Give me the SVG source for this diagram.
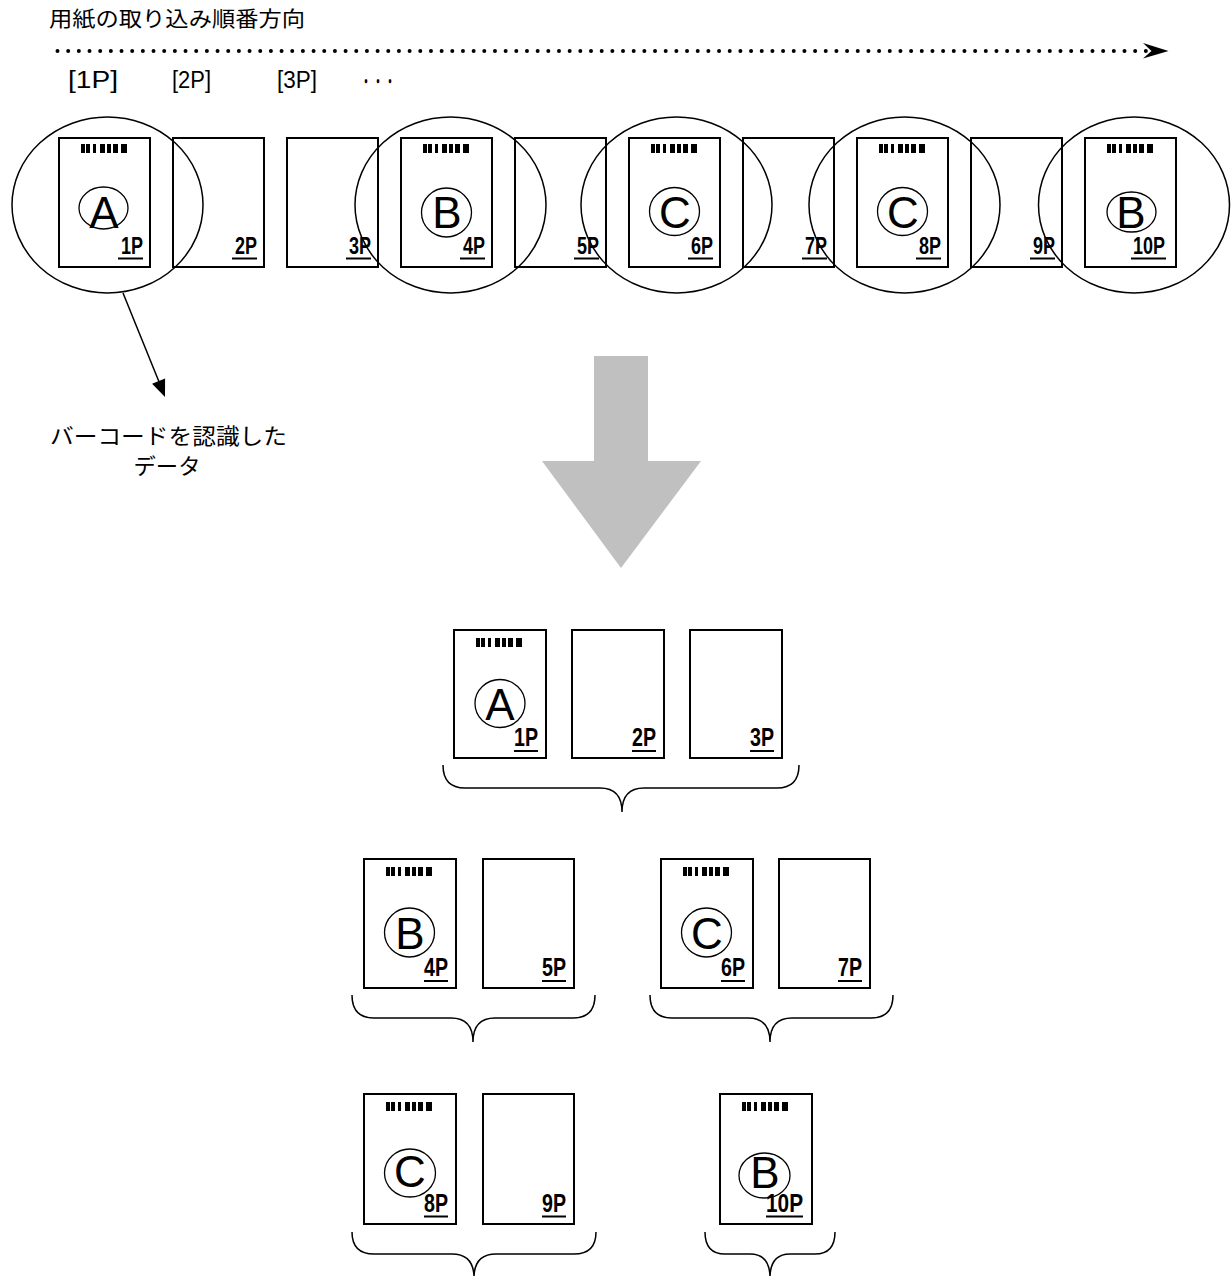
<svg xmlns="http://www.w3.org/2000/svg" xmlns:xlink="http://www.w3.org/1999/xlink" width="1232" height="1276" viewBox="0 0 1232 1276">
<style>
.page{fill:none;stroke:#000;stroke-width:2}
.scan{fill:none;stroke:#000;stroke-width:1.5}
.mark{fill:none;stroke:#000;stroke-width:1.3}
.letter{font-family:"Liberation Sans",Arial,sans-serif;font-size:44px;fill:#000;text-anchor:middle}
.lbl{font-family:"Liberation Sans",Arial,sans-serif;font-weight:bold;fill:#000}
.ul{stroke:#000;stroke-width:2}
.jp{font-family:"Noto Sans CJK JP","Noto Sans",sans-serif;fill:#000}
.br{font-family:"Liberation Sans",Arial,sans-serif;font-size:23px;fill:#000}
.brace{fill:none;stroke:#000;stroke-width:1.5}
</style>
<defs>
<g id="barcode">
<rect x="0" y="0" width="4" height="9"/><rect x="5" y="0" width="4" height="9"/><rect x="12" y="0" width="3" height="9"/><rect x="19" y="0" width="5" height="9"/><rect x="26" y="0" width="4" height="9"/><rect x="32" y="0" width="5" height="9"/><rect x="40" y="0" width="6" height="9"/>
</g>
</defs>
<rect width="1232" height="1276" fill="#fff"/>

<g id="title">
<text class="jp" x="49" y="26" font-size="21" textLength="256" lengthAdjust="spacingAndGlyphs">用紙の取り込み順番方向</text>
</g>
<g id="order-labels">
<text class="br" x="68" y="88" textLength="50" lengthAdjust="spacingAndGlyphs">[1P]</text>
<text class="br" x="172" y="88" textLength="39" lengthAdjust="spacingAndGlyphs">[2P]</text>
<text class="br" x="277" y="88" textLength="40" lengthAdjust="spacingAndGlyphs">[3P]</text>
<text class="jp" x="360" y="89" font-size="20" textLength="36" lengthAdjust="spacingAndGlyphs">・・・</text>
</g>

<!-- top row pages -->
<g id="top-p1"><rect class="page" x="59" y="138" width="91" height="129"/><use href="#barcode" x="81" y="144"/><ellipse class="mark" cx="103.5" cy="208" rx="24.5" ry="21"/><text class="letter" x="104" y="228">A</text><text class="lbl" x="121" y="254" font-size="23" textLength="22" lengthAdjust="spacingAndGlyphs">1P</text><line class="ul" x1="118" y1="258.5" x2="143" y2="258.5"/></g>
<g id="top-p2"><rect class="page" x="173" y="138" width="91" height="129"/><text class="lbl" x="235" y="254" font-size="23" textLength="22" lengthAdjust="spacingAndGlyphs">2P</text><line class="ul" x1="232" y1="258.5" x2="257" y2="258.5"/></g>
<g id="top-p3"><rect class="page" x="287" y="138" width="91" height="129"/><text class="lbl" x="349" y="254" font-size="23" textLength="22" lengthAdjust="spacingAndGlyphs">3P</text><line class="ul" x1="346" y1="258.5" x2="371" y2="258.5"/></g>
<g id="top-p4"><rect class="page" x="401" y="138" width="91" height="129"/><use href="#barcode" x="423" y="144"/><ellipse class="mark" cx="446.5" cy="212.5" rx="25" ry="24.5"/><text class="letter" x="447" y="228">B</text><text class="lbl" x="463" y="254" font-size="23" textLength="22" lengthAdjust="spacingAndGlyphs">4P</text><line class="ul" x1="460" y1="258.5" x2="485" y2="258.5"/></g>
<g id="top-p5"><rect class="page" x="515" y="138" width="91" height="129"/><text class="lbl" x="577" y="254" font-size="23" textLength="22" lengthAdjust="spacingAndGlyphs">5P</text><line class="ul" x1="574" y1="258.5" x2="599" y2="258.5"/></g>
<g id="top-p6"><rect class="page" x="629" y="138" width="91" height="129"/><use href="#barcode" x="651" y="144"/><ellipse class="mark" cx="674.5" cy="211.5" rx="25" ry="24"/><text class="letter" x="675" y="228">C</text><text class="lbl" x="691" y="254" font-size="23" textLength="22" lengthAdjust="spacingAndGlyphs">6P</text><line class="ul" x1="688" y1="258.5" x2="713" y2="258.5"/></g>
<g id="top-p7"><rect class="page" x="743" y="138" width="91" height="129"/><text class="lbl" x="805" y="254" font-size="23" textLength="22" lengthAdjust="spacingAndGlyphs">7P</text><line class="ul" x1="802" y1="258.5" x2="827" y2="258.5"/></g>
<g id="top-p8"><rect class="page" x="857" y="138" width="91" height="129"/><use href="#barcode" x="879" y="144"/><ellipse class="mark" cx="902.5" cy="211.5" rx="25" ry="24"/><text class="letter" x="903" y="228">C</text><text class="lbl" x="919" y="254" font-size="23" textLength="22" lengthAdjust="spacingAndGlyphs">8P</text><line class="ul" x1="916" y1="258.5" x2="941" y2="258.5"/></g>
<g id="top-p9"><rect class="page" x="971" y="138" width="91" height="129"/><text class="lbl" x="1033" y="254" font-size="23" textLength="22" lengthAdjust="spacingAndGlyphs">9P</text><line class="ul" x1="1030" y1="258.5" x2="1055" y2="258.5"/></g>
<g id="top-p10"><rect class="page" x="1085" y="138" width="91" height="129"/><use href="#barcode" x="1107" y="144"/><ellipse class="mark" cx="1131.5" cy="212" rx="24.5" ry="20"/><text class="letter" x="1131" y="228">B</text><text class="lbl" x="1133" y="254" font-size="23" textLength="32" lengthAdjust="spacingAndGlyphs">10P</text><line class="ul" x1="1131" y1="258.5" x2="1166" y2="258.5"/></g>

<g id="scan-areas">
<ellipse class="scan" cx="107.5" cy="205" rx="95.5" ry="88"/>
<ellipse class="scan" cx="450.5" cy="205" rx="95.5" ry="88"/>
<ellipse class="scan" cx="676.5" cy="205" rx="95.5" ry="88"/>
<ellipse class="scan" cx="904.5" cy="205" rx="95.5" ry="88"/>
<ellipse class="scan" cx="1134" cy="205" rx="95.5" ry="88"/>
</g>

<g id="callout-text">
<text class="jp" x="168.5" y="444" font-size="22" text-anchor="middle" textLength="237" lengthAdjust="spacingAndGlyphs">バーコードを認識した</text>
<text class="jp" x="167" y="474" font-size="22" text-anchor="middle" textLength="67" lengthAdjust="spacingAndGlyphs">データ</text>
</g>

<g id="big-arrow">
<polygon points="594,356 648,356 648,461 701,461 621,568 542,461 594,461" fill="#c0c0c0"/>
</g>

<!-- group 1 -->
<g id="g1-p1"><rect class="page" x="454" y="630" width="92" height="128"/><use href="#barcode" x="476" y="638"/><ellipse class="mark" cx="500" cy="703.5" rx="25" ry="24"/><text class="letter" x="500" y="720">A</text><text class="lbl" x="514" y="746" font-size="25" textLength="24" lengthAdjust="spacingAndGlyphs">1P</text><line class="ul" x1="514" y1="751" x2="538" y2="751"/></g>
<g id="g1-p2"><rect class="page" x="572" y="630" width="92" height="128"/><text class="lbl" x="632" y="746" font-size="25" textLength="24" lengthAdjust="spacingAndGlyphs">2P</text><line class="ul" x1="632" y1="751" x2="656" y2="751"/></g>
<g id="g1-p3"><rect class="page" x="690" y="630" width="92" height="128"/><text class="lbl" x="750" y="746" font-size="25" textLength="24" lengthAdjust="spacingAndGlyphs">3P</text><line class="ul" x1="750" y1="751" x2="774" y2="751"/></g>

<!-- group 2 -->
<g id="g2-p4"><rect class="page" x="364" y="859" width="92" height="129"/><use href="#barcode" x="386" y="867"/><ellipse class="mark" cx="409.5" cy="932.5" rx="25" ry="24.5"/><text class="letter" x="410" y="949">B</text><text class="lbl" x="424" y="976" font-size="25" textLength="24" lengthAdjust="spacingAndGlyphs">4P</text><line class="ul" x1="424" y1="981" x2="448" y2="981"/></g>
<g id="g2-p5"><rect class="page" x="483" y="859" width="91" height="129"/><text class="lbl" x="542" y="976" font-size="25" textLength="24" lengthAdjust="spacingAndGlyphs">5P</text><line class="ul" x1="542" y1="981" x2="566" y2="981"/></g>

<!-- group 3 -->
<g id="g3-p6"><rect class="page" x="661" y="859" width="92" height="129"/><use href="#barcode" x="683" y="867"/><ellipse class="mark" cx="706.5" cy="932.5" rx="25" ry="24.5"/><text class="letter" x="707" y="949">C</text><text class="lbl" x="721" y="976" font-size="25" textLength="24" lengthAdjust="spacingAndGlyphs">6P</text><line class="ul" x1="721" y1="981" x2="745" y2="981"/></g>
<g id="g3-p7"><rect class="page" x="779" y="859" width="91" height="129"/><text class="lbl" x="838" y="976" font-size="25" textLength="24" lengthAdjust="spacingAndGlyphs">7P</text><line class="ul" x1="838" y1="981" x2="862" y2="981"/></g>

<!-- group 4 -->
<g id="g4-p8"><rect class="page" x="364" y="1094" width="92" height="130"/><use href="#barcode" x="386" y="1102"/><ellipse class="mark" cx="410" cy="1173" rx="25.5" ry="24"/><text class="letter" x="410" y="1187">C</text><text class="lbl" x="424" y="1212" font-size="25" textLength="24" lengthAdjust="spacingAndGlyphs">8P</text><line class="ul" x1="424" y1="1216.5" x2="448" y2="1216.5"/></g>
<g id="g4-p9"><rect class="page" x="483" y="1094" width="91" height="130"/><text class="lbl" x="542" y="1212" font-size="25" textLength="24" lengthAdjust="spacingAndGlyphs">9P</text><line class="ul" x1="542" y1="1216.5" x2="566" y2="1216.5"/></g>

<!-- group 5 -->
<g id="g5-p10"><rect class="page" x="720" y="1094" width="92" height="130"/><use href="#barcode" x="742" y="1102"/><ellipse class="mark" cx="764.5" cy="1175.5" rx="25.5" ry="22.5"/><text class="letter" x="765" y="1188">B</text><text class="lbl" x="766" y="1212" font-size="25" textLength="37" lengthAdjust="spacingAndGlyphs">10P</text><line class="ul" x1="766" y1="1216.5" x2="803" y2="1216.5"/></g>

<g id="connectors">
<line x1="57.5" y1="51" x2="1150" y2="51" stroke="#000" stroke-width="4" stroke-linecap="round" stroke-dasharray="0 10.67"/>
<polygon points="1143,43 1168.5,51 1143,58.5 1151.5,51" fill="#000"/>
<line x1="123" y1="293" x2="159.5" y2="383" stroke="#000" stroke-width="1.5"/>
<polygon points="165,397 152.1,383.8 165.1,378.6" fill="#000"/>
<path class="brace" d="M443,765 Q443,788 465,788 L600,788 Q622,788 622,812 Q622,788 644,788 L777,788 Q799,788 799,765"/>
<path class="brace" d="M352,995 Q352,1018 374,1018 L451,1018 Q473,1018 473,1042 Q473,1018 495,1018 L573,1018 Q595,1018 595,995"/>
<path class="brace" d="M650,995 Q650,1018 672,1018 L748,1018 Q770,1018 770,1042 Q770,1018 792,1018 L871,1018 Q893,1018 893,995"/>
<path class="brace" d="M352,1232 Q352,1254 374,1254 L452,1254 Q474,1254 474,1278 Q474,1254 496,1254 L574,1254 Q596,1254 596,1232"/>
<path class="brace" d="M705,1232 Q705,1254 725,1254 L750,1254 Q770,1254 770,1278 Q770,1254 790,1254 L815,1254 Q835,1254 835,1232"/>
</g>
</svg>
